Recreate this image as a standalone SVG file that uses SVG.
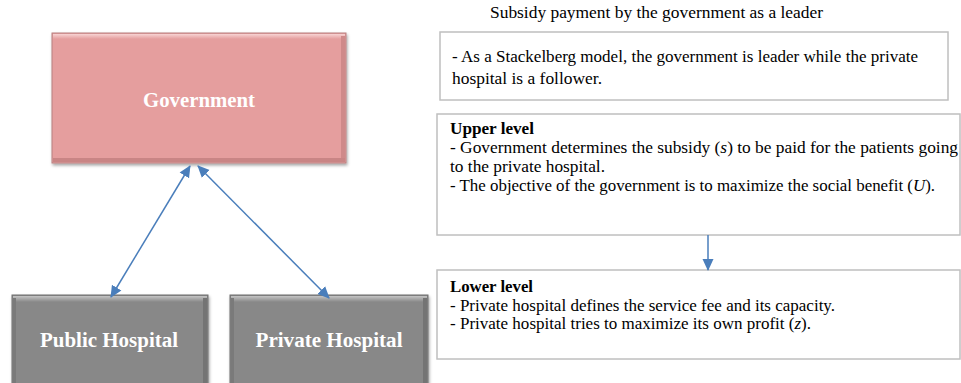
<svg xmlns="http://www.w3.org/2000/svg" width="961" height="383" viewBox="0 0 961 383">
  <defs>
    <linearGradient id="topPink" x1="0" y1="0" x2="0" y2="1">
      <stop offset="0" stop-color="#f7d3d3"/>
      <stop offset="1" stop-color="#e59e9e"/>
    </linearGradient>
    <linearGradient id="topGray" x1="0" y1="0" x2="0" y2="1">
      <stop offset="0" stop-color="#c4c4c4"/>
      <stop offset="1" stop-color="#888888"/>
    </linearGradient>
    <filter id="shadow" x="-10%" y="-10%" width="120%" height="130%">
      <feDropShadow dx="1" dy="2" stdDeviation="1.5" flood-color="#000" flood-opacity="0.35"/>
    </filter>
    <marker id="head" viewBox="0 0 12 12" refX="11" refY="6" markerWidth="12" markerHeight="12" markerUnits="userSpaceOnUse" orient="auto-start-reverse">
      <path d="M0,0.5 L12,6 L0,11.5 Z" fill="#4a7ebb"/>
    </marker>
  </defs>
  <style>
    .node-label { font-family: "Liberation Serif", "Times New Roman", serif; font-weight: bold; font-size: 20px; fill: #ffffff; }
    .txt { font-family: "Liberation Serif", "Times New Roman", serif; font-size: 16px; fill: #000000; }
    .bold { font-weight: bold; }
    .panel { fill: #ffffff; stroke: #bfbfbf; stroke-width: 1.5; }
    .conn { stroke: #4a7ebb; stroke-width: 1.5; fill: none; }
  </style>

  <!-- Government -->
  <g id="government">
    <rect x="52" y="33" width="294" height="130" fill="#e59e9e" stroke="#b88080" stroke-width="1" filter="url(#shadow)"/>
    <rect x="53" y="34" width="292" height="5" fill="url(#topPink)"/>
    <rect x="341" y="36" width="4" height="126" fill="#cf8a8a"/>
    <rect x="53" y="158" width="292" height="4" fill="#c98585"/>
    <text class="node-label" x="199" y="107" text-anchor="middle" textLength="112" lengthAdjust="spacingAndGlyphs">Government</text>
  </g>

  <!-- Public Hospital -->
  <g id="public-hospital">
    <rect x="12" y="295" width="196" height="92" fill="#888888" stroke="#6e6e6e" stroke-width="1" filter="url(#shadow)"/>
    <rect x="13" y="296" width="194" height="6" fill="url(#topGray)"/>
    <rect x="203" y="298" width="4" height="88" fill="#747474"/>
    <rect x="13" y="298" width="3" height="88" fill="#7a7a7a"/>
    <text class="node-label" x="109" y="347" text-anchor="middle" textLength="138" lengthAdjust="spacingAndGlyphs">Public Hospital</text>
  </g>

  <!-- Private Hospital -->
  <g id="private-hospital">
    <rect x="230" y="295" width="198" height="92" fill="#888888" stroke="#6e6e6e" stroke-width="1" filter="url(#shadow)"/>
    <rect x="231" y="296" width="196" height="6" fill="url(#topGray)"/>
    <rect x="423" y="298" width="4" height="88" fill="#747474"/>
    <rect x="231" y="298" width="3" height="88" fill="#7a7a7a"/>
    <text class="node-label" x="329" y="347" text-anchor="middle" textLength="147" lengthAdjust="spacingAndGlyphs">Private Hospital</text>
  </g>

  <!-- Title -->
  <g id="title">
    <text class="txt" x="490" y="18" textLength="333" lengthAdjust="spacingAndGlyphs">Subsidy payment by the government as a leader</text>
  </g>

  <!-- Model description -->
  <g id="model">
    <rect class="panel" x="440" y="32" width="508" height="68"/>
    <text class="txt" x="452" y="62" textLength="466" lengthAdjust="spacingAndGlyphs">- As a Stackelberg model, the government is leader while the private</text>
    <text class="txt" x="452" y="84" textLength="150" lengthAdjust="spacingAndGlyphs">hospital is a follower.</text>
  </g>

  <!-- Upper level -->
  <g id="upper-level">
    <rect class="panel" x="437" y="114" width="523" height="121"/>
    <text class="txt bold" x="450" y="134" textLength="84" lengthAdjust="spacingAndGlyphs">Upper level</text>
    <text class="txt" x="450" y="153" textLength="508" lengthAdjust="spacingAndGlyphs">- Government determines the subsidy (<tspan font-style="italic">s</tspan>) to be paid for the patients going</text>
    <text class="txt" x="450" y="172" textLength="155" lengthAdjust="spacingAndGlyphs">to the private hospital.</text>
    <text class="txt" x="450" y="191" textLength="485" lengthAdjust="spacingAndGlyphs">- The objective of the government is to maximize the social benefit (<tspan font-style="italic">U</tspan>).</text>
  </g>

  <!-- Lower level -->
  <g id="lower-level">
    <rect class="panel" x="437" y="270" width="523" height="89"/>
    <text class="txt bold" x="450" y="292" textLength="83" lengthAdjust="spacingAndGlyphs">Lower level</text>
    <text class="txt" x="450" y="311" textLength="385" lengthAdjust="spacingAndGlyphs">- Private hospital defines the service fee and its capacity.</text>
    <text class="txt" x="450" y="329" textLength="361" lengthAdjust="spacingAndGlyphs">- Private hospital tries to maximize its own profit (<tspan font-style="italic">z</tspan>).</text>
  </g>

  <!-- Connectors -->
  <g id="connectors">
    <line class="conn" x1="190" y1="166" x2="111" y2="297" marker-start="url(#head)" marker-end="url(#head)"/>
    <line class="conn" x1="198" y1="166" x2="329" y2="298" marker-start="url(#head)" marker-end="url(#head)"/>
    <line class="conn" x1="708" y1="235" x2="708" y2="270" marker-end="url(#head)"/>
  </g>
</svg>
